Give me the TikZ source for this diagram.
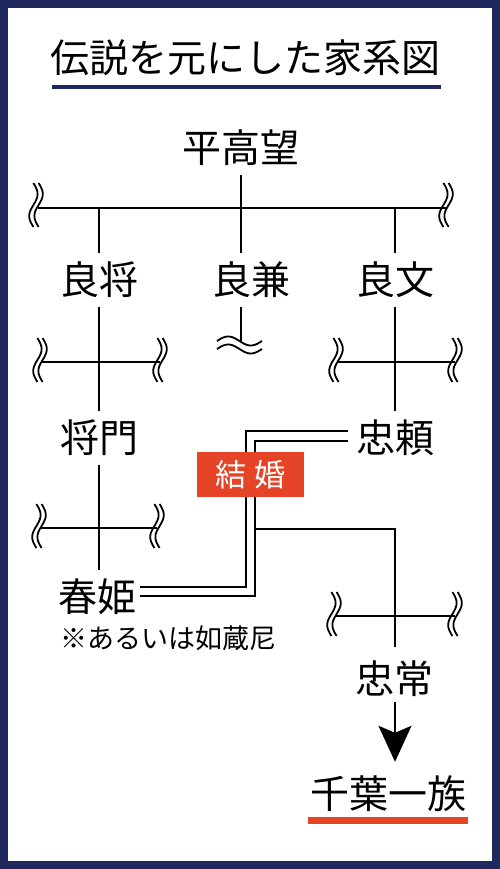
\documentclass[tikz,border=0pt]{standalone}
\usepackage{fontspec}
\setmainfont{Noto Sans CJK JP}
\usetikzlibrary{arrows.meta}
\definecolor{navy}{RGB}{30,40,92}
\definecolor{accent}{RGB}{230,68,38}
\begin{document}
\begin{tikzpicture}[x=1pt,y=-1pt,
  tree/.style={line width=2pt,line cap=butt},
  person/.style={font=\fontsize{39}{39}\selectfont, inner sep=0pt, minimum height=54pt, anchor=center},
  vwave/.pic={\foreach \d in {-2.6,2.6}{\draw[line width=1.8pt] plot[domain=-22:22,samples=41,smooth,variable=\t] ({\d+4.2*sin(360*(\t+22)/44)},{\t});}},
  hwave/.pic={\foreach \d in {-4,4}{\draw[line width=1.8pt] plot[domain=-22.5:22.5,samples=41,smooth,variable=\t] ({\t},{\d-4.5*sin(360*(\t+22.5)/45)});}}
]
\useasboundingbox (0,0) rectangle (500,869);
\fill[white] (0,0) rectangle (500,869);
\draw[navy,line width=8pt] (4,4) rectangle (496,865);

% title
\node[font=\fontsize{39}{39}\selectfont, inner sep=0pt] (title) at (245,58) {伝説を元にした家系図};
\draw[navy,line width=4pt] (52,87) -- (441,87);

% people
\node[person] (taka) at (241,148) {平高望};
\node[person] (ysm) at (99,280) {良将};
\node[person] (ykn) at (251,280) {良兼};
\node[person] (yfm) at (395,280) {良文};
\node[person] (msk) at (99,438) {将門};
\node[person] (tdy) at (395,438) {忠頼};
\node[person] (hrh) at (97,597) {春姫};
\node[font=\fontsize{27}{27}\selectfont, inner sep=0pt] (note) at (168.5,638) {※あるいは如蔵尼};
\node[person] (tdt) at (394,679) {忠常};
\node[person] (chiba) at (388,794) {千葉一族};

% generation 1
\coordinate (r1L) at (38,208);
\coordinate (r1R) at (446,208);
\draw[tree] (r1L) -- (r1R);
\pic at (36,205) {vwave};
\pic at (446,205) {vwave};
\draw[tree] (taka.south) -- (taka.south |- ykn.north);
\draw[tree] (ysm.north |- r1L) -- (ysm.north);
\draw[tree] (yfm.north |- r1L) -- (yfm.north);

% generation 2
\coordinate (r2aL) at (41,362);
\coordinate (r2aR) at (160,362);
\draw[tree] (r2aL) -- (r2aR);
\pic at (40,360) {vwave};
\pic at (160,360) {vwave};
\draw[tree] (ysm.south) -- (msk.north);

\draw[tree] (ykn.south -| taka.south) -- ++(0,34);
\pic at (239.5,345) {hwave};

\coordinate (r2bL) at (337,362);
\coordinate (r2bR) at (455,362);
\draw[tree] (r2bL) -- (r2bR);
\pic at (336,360) {vwave};
\pic at (455,360) {vwave};
\draw[tree] (yfm.south) -- (tdy.north);

% generation 3
\coordinate (r3L) at (40,528);
\coordinate (r3R) at (157,528);
\draw[tree] (r3L) -- (r3R);
\pic at (39,526) {vwave};
\pic at (157,526) {vwave};
\draw[tree] (msk.south) -- (msk.south |- hrh.north);

% marriage
\draw[tree] ([xshift=-8pt,yshift=7pt]tdy.west) -| (246,587) -- ([xshift=4pt,yshift=10pt]hrh.east);
\draw[tree] ([xshift=-8pt,yshift=-3pt]tdy.west) -| (255,596) -- ([xshift=4pt,yshift=1pt]hrh.east);
\node[fill=accent, text=white, minimum width=107pt, minimum height=45pt, inner sep=0pt,
      font=\fontsize{31}{31}\selectfont] (kekkon) at (250.5,474.5) {結\hspace{9pt}婚};

% child
\coordinate (m1) at (255,529);
\coordinate (m2) at (395,529);
\draw[tree] (m1) -- (m2) -- ([yshift=5pt]tdt.north -| m2);
\coordinate (r4L) at (336,616);
\coordinate (r4R) at (455,616);
\draw[tree] (r4L) -- (r4R);
\pic at (334,614) {vwave};
\pic at (455,614) {vwave};

\draw[tree,-{Stealth[length=36pt,width=33pt,inset=7pt]}] ([yshift=4pt]tdt.south -| m2) -- ([yshift=5pt]chiba.north -| m2);
\draw[accent,line width=6.5pt] (308,820.5) -- (468,820.5);
\end{tikzpicture}
\end{document}
